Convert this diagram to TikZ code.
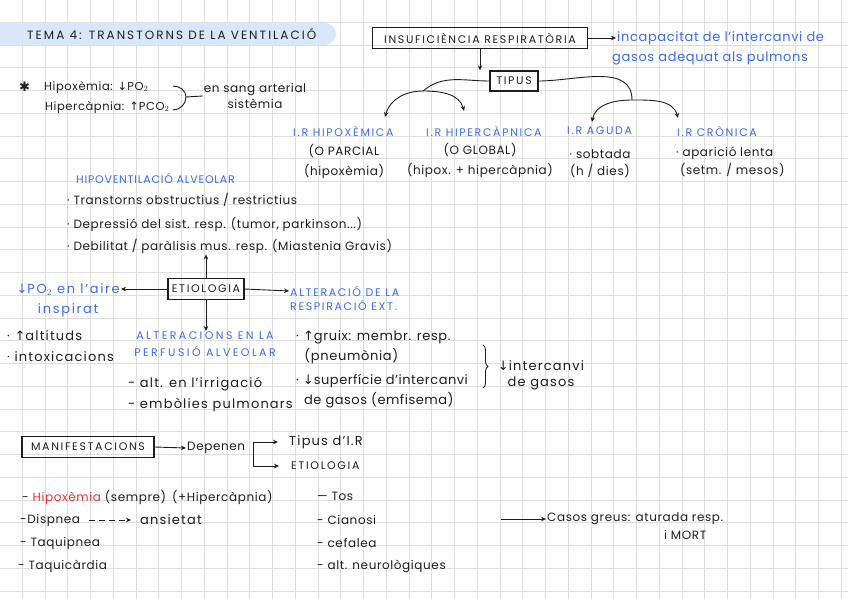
\documentclass[tikz,border=0pt]{standalone}
\usepackage{fontspec}
\setmainfont{Poppins}[LetterSpace=5]
\newfontfamily\capsfont{Poppins}[LetterSpace=15]
\newfontfamily\symbfont{DejaVu Sans}
\newcommand{\arrdown}{{\symbfont ↓}}
\newcommand{\arrup}{{\symbfont ↑}}
\usepackage{xcolor}
\definecolor{ink}{RGB}{30, 30, 30}
\definecolor{penblue}{RGB}{60, 108, 230}
\definecolor{penred}{RGB}{236, 52, 48}
\definecolor{bandblue}{RGB}{217, 231, 251}
\definecolor{gridgray}{RGB}{222, 222, 222}
\usetikzlibrary{positioning, arrows.meta, decorations.pathreplacing}

\begin{document}
\begin{tikzpicture}[
  x=1pt, y=1pt,
  node distance=3pt and 8pt,
  note/.style={anchor=west, inner sep=1pt, text=ink, font=\fontsize{12}{20}\selectfont},
  wide/.style={note, font=\fontsize{13}{20}\selectfont\addfontfeature{LetterSpace=9}},
  caps/.style={anchor=west, inner sep=1pt, text=ink, font=\capsfont\fontsize{11}{17}\selectfont},
  head/.style={caps, text=penblue},
  framed/.style={draw=ink, line width=1.3pt, inner sep=2pt, text=ink, font=\capsfont\fontsize{11}{12}\selectfont},
  arrow/.style={-{Stealth[length=5pt, width=4.5pt]}, draw=ink, line width=0.9pt},
  pen/.style={draw=ink, line width=0.9pt},
  gridline/.style={draw=gridgray, line width=0.8pt}
]
  \useasboundingbox (0,-599) rectangle (848,0);
  \fill[white] (0,-599) rectangle (848,0);

  % squared paper
  \foreach \i in {1,...,37} \draw[gridline] (\i*22.75-0.5,0) -- (\i*22.75-0.5,-599);
  \foreach \j in {1,...,26} \draw[gridline] (0,-\j*22.75+0.5) -- (848,-\j*22.75+0.5);

  % Title
  \fill[bandblue, rounded corners=11pt] (-15,-45) rectangle (336,-23);
  \node[caps, font=\capsfont\fontsize{12}{14}\selectfont\addfontfeature{LetterSpace=17}] (title) at (26,-34) {TEMA 4: TRANSTORNS DE LA VENTILACIÓ};

  % Insuficiencia respiratoria
  \node[framed, minimum width=215pt, minimum height=21pt] (insuf) at (480,-38) {INSUFICIÈNCIA RESPIRATÒRIA};
  \node[note, text=penblue, font=\fontsize{13}{14}\selectfont] (def1) at (616,-38) {incapacitat de l'intercanvi de};
  \node[note, text=penblue, font=\fontsize{13}{14}\selectfont] (def2) at (611,-58) {gasos adequat als pulmons};
  \draw[arrow] (insuf.east) -- (def1.west);

  \node[framed, minimum width=48pt, minimum height=20pt] (tipus) at (514,-81) {TIPUS};
  \draw[arrow] (insuf.south) -- (insuf.south |- tipus.north);

  % Types
  \node[head] (hipox) at (292,-131) {I.R HIPOXÈMICA};
  \node[head] (hiperc) at (425,-131) {I.R HIPERCÀPNICA};
  \node[head] (aguda) at (566,-131) {I.R AGUDA};
  \node[head] (cronica) at (676,-131) {I.R CRÒNICA};
  \node[note, anchor=center, align=center] (hipoxsub) at (344,-161) {(O PARCIAL\\(hipoxèmia)};
  \node[note, anchor=center, align=center] (hipercsub) at (480,-160) {(O GLOBAL)\\(hipox. + hipercàpnia)};
  \node[note, anchor=center, align=center, font=\fontsize{12}{17}\selectfont] (agudasub) at (600,-164) {· sobtada\\(h / dies)};
  \node[note, anchor=north west, align=left, font=\fontsize{12}{18}\selectfont] (cronicasub) at (675,-146) {· aparició lenta\\\ (setm. / mesos)};

  \coordinate (jl) at (423,-91);
  \coordinate (jr) at (632,-100);
  \coordinate (a1) at (385,-117);
  \coordinate (a2) at (464,-111);
  \coordinate (a3) at (592,-122);
  \coordinate (a4) at (678,-118);
  \draw[pen] (tipus.west) to[out=180, in=40] (jl);
  \draw[arrow] (jl) to[out=180, in=75] (a1);
  \draw[arrow] (jl) to[out=0, in=105] (a2);
  \draw[pen] (tipus.east) to[out=0, in=90] (jr);
  \draw[arrow] (jr) to[out=180, in=80] (a3);
  \draw[arrow] (jr) to[out=0, in=105] (a4);

  % Hipoxemia / hipercapnia
  \node[note, font=\symbfont\fontsize{13}{13}\selectfont] (star) at (18,-87) {✱};
  \node[note, font=\fontsize{11.5}{13}\selectfont] (hx) at (43,-87) {Hipoxèmia: \arrdown PO$_2$};
  \node[note, font=\fontsize{11.5}{13}\selectfont] (hc) at (44,-107) {Hipercàpnia: \arrup PCO$_2$};
  \node[note, anchor=center, align=center, font=\fontsize{12}{16}\selectfont] (sang) at (255,-96) {en sang arterial\\sistèmia};
  \coordinate (bt) at (173,-86);
  \coordinate (bm) at (186,-97);
  \coordinate (bb) at (173,-110);
  \draw[pen] (bt) to[out=0, in=90] (bm) to[out=-90, in=0] (bb);
  \draw[pen] (bm) -- (sang.west);

  % Hipoventilacio
  \node[head, font=\capsfont\fontsize{11}{13}\selectfont\addfontfeature{LetterSpace=7}] (hipov) at (75,-178) {HIPOVENTILACIÓ ALVEOLAR};
  \node[note] (trans) at (66,-200) {· Transtorns obstructius / restrictius};
  \node[note] (depr) at (66,-224) {· Depressió del sist. resp. (tumor, parkinson...)};
  \node[note] (debil) at (66,-246) {· Debilitat / paràlisis mus. resp. (Miastenia Gravis)};

  % Etiologia
  \node[framed, minimum width=76pt, minimum height=21pt] (etio) at (206,-289) {ETIOLOGIA};
  \node[wide, anchor=east, align=center, text=penblue, font=\fontsize{13}{20}\selectfont\addfontfeature{LetterSpace=13}] (aire) at (121,-300) {\arrdown PO$_2$ en l'aire\\inspirat};
  \node[wide] (alt1) at (6,-336) {· \arrup altituds};
  \node[wide] (alt2) at (6,-357) {· intoxicacions};
  \node[head] (resp1) at (289,-291) {ALTERACIÓ DE LA};
  \node[head, below=2pt of resp1.south west, anchor=north west] (resp2) {RESPIRACIÓ EXT.};
  \node[head, anchor=north, align=center, font=\capsfont\fontsize{11}{17}\selectfont\addfontfeature{LetterSpace=22}] (perf) at (205,-331) {ALTERACIONS EN LA\\PERFUSIÓ ALVEOLAR};
  \draw[arrow] (etio.north) -- (etio.north |- debil.south);
  \draw[arrow] (etio.west) -- (etio.west -| aire.east);
  \draw[arrow] (etio.east) -- (resp1.west);
  \draw[arrow] (etio.south) -- (etio.south |- perf.north);

  \node[wide] (irr) at (127,-384) {- alt. en l'irrigació};
  \node[wide] (emb) at (127,-405) {- embòlies pulmonars};
  \node[wide, anchor=north west, align=left, font=\fontsize{13}{20}\selectfont\addfontfeature{LetterSpace=5}] (gruix) at (295,-329) {· \arrup gruix: membr. resp.\\\ \ (pneumònia)};
  \node[wide, anchor=north west, align=left, font=\fontsize{13}{20}\selectfont\addfontfeature{LetterSpace=4}] (superf) at (295,-373) {· \arrdown superfície d'intercanvi\\\ \ de gasos (emfisema)};
  \coordinate (bx1) at (483,-345);
  \coordinate (bx2) at (483,-388);
  \draw[pen, decorate, decoration={brace, amplitude=5pt}] (bx1) -- (bx2);
  \node[wide, anchor=center, align=center, font=\fontsize{13}{16}\selectfont\addfontfeature{LetterSpace=9}] (interc) at (541,-375) {\arrdown intercanvi\\de gasos};

  % Manifestacions
  \node[framed, minimum width=132pt, minimum height=21pt] (manif) at (88,-447) {MANIFESTACIONS};
  \node[note] (dep) at (186,-448) {Depenen};
  \draw[arrow] (manif.east) -- (dep.west);
  \node[wide] (tip2) at (288,-442) {Tipus d'I.R};
  \node[caps] (et2) at (290,-466) {ETIOLOGIA};
  \coordinate (bk) at (253,-452);
  \draw[arrow] (bk) |- ([xshift=-10pt]tip2.west);
  \draw[arrow] (bk) |- ([xshift=-11pt]et2.west);

  \node[note] (hipoxm) at (21,-497) {- \textcolor{penred}{Hipoxèmia} (sempre)\hspace{6pt}(+Hipercàpnia)};
  \node[note] (disp) at (19,-520) {-Dispnea};
  \node[wide] (ans) at (139,-520) {ansietat};
  \draw[arrow, dash pattern=on 6pt off 4pt, shorten <=8pt, shorten >=8pt] (disp.east) -- (ans.west);
  \node[note] (taqp) at (19,-543) {- Taquipnea};
  \node[note] (taqc) at (17,-566) {- Taquicàrdia};
  \node[note] (tos) at (316,-496) {— Tos};
  \node[note] (cian) at (316,-520) {- Cianosi};
  \node[note] (cef) at (316,-543) {- cefalea};
  \node[note] (neuro) at (316,-566) {- alt. neurològiques};
  \coordinate (cg) at (501,-519);
  \node[note] (greus) at (546,-519) {Casos greus: aturada resp.};
  \node[note] (mort) at (663,-535) {i MORT};
  \draw[arrow] (cg) -- (greus.west);
\end{tikzpicture}
\end{document}
